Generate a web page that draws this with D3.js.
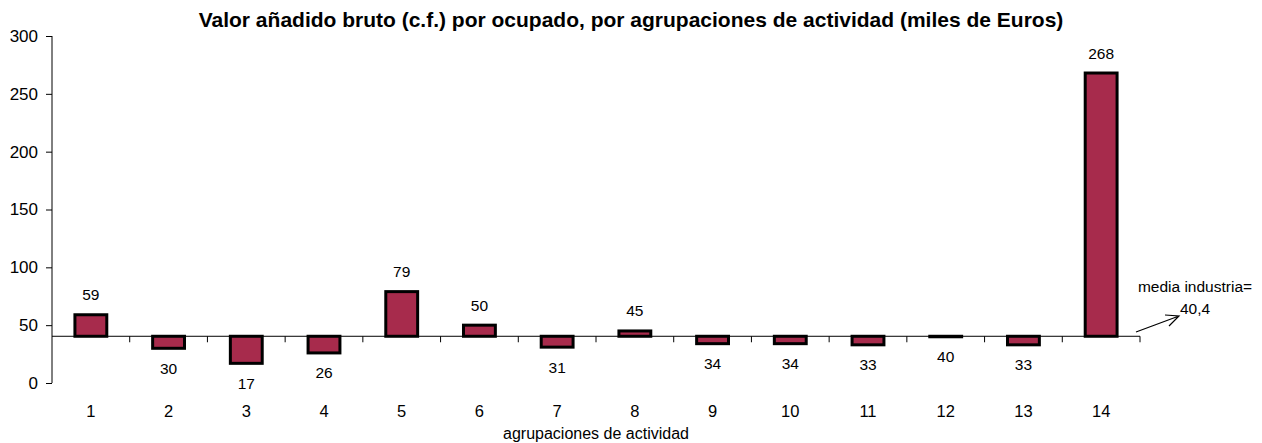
<!DOCTYPE html>
<html>
<head>
<meta charset="utf-8">
<script src="https://cdn.jsdelivr.net/npm/d3@7"></script>
<style>
body { margin: 0; background: #fff; }
svg { font-family: "Liberation Sans", Arial, sans-serif; }
</style>
</head>
<body>
<div class="chart"></div>
<script>
// data
var categories = ["1","2","3","4","5","6","7","8","9","10","11","12","13","14"];
var values = [59, 30, 17, 26, 79, 50, 31, 45, 34, 34, 33, 40, 33, 268];
var baseline = 40.4;
var yTicks = [0, 50, 100, 150, 200, 250, 300];

var width = 1262, height = 443;
var margin = {top: 36, left: 52, right: 122, bottom: 60};

var svg = d3.select(".chart").append("svg")
    .attr("width", width)
    .attr("height", height);

var x = d3.scaleBand()
    .domain(categories)
    .range([margin.left, width - margin.right])
    .paddingInner(0.59)
    .paddingOuter(0.295);

var xEdge = d3.scaleLinear()
    .domain([0, categories.length])
    .range([margin.left, width - margin.right]);

var y = d3.scaleLinear()
    .domain([0, 300])
    .range([height - margin.bottom, margin.top]);

// title
svg.append("text")
    .attr("x", 631)
    .attr("y", 27)
    .attr("text-anchor", "middle")
    .style("font-size", "21px")
    .style("font-weight", "bold")
    .text("Valor añadido bruto (c.f.) por ocupado, por agrupaciones de actividad (miles de Euros)");

// y axis
var yAxis = svg.append("g")
    .attr("transform", "translate(" + margin.left + ",0)")
    .call(d3.axisLeft(y).tickValues(yTicks).tickSize(6).tickPadding(8));
yAxis.select(".domain").attr("d", "M0," + y(300) + "V" + y(0)).attr("stroke", "#000");
yAxis.selectAll("line").attr("stroke", "#000");
yAxis.selectAll("text").style("font-size", "17px").attr("fill", "#000");

// bars from the baseline
svg.append("g").selectAll("rect")
    .data(values)
    .enter().append("rect")
    .attr("x", function(d, i) { return x(categories[i]); })
    .attr("width", x.bandwidth())
    .attr("y", function(d) { return y(Math.max(d, baseline)); })
    .attr("height", function(d) { return Math.max(Math.abs(y(d) - y(baseline)), 0.5); })
    .attr("fill", "#A72B4C")
    .attr("stroke", "#000")
    .attr("stroke-width", 3);

// horizontal axis at the mean
var yb = y(baseline);
svg.append("line")
    .attr("x1", margin.left).attr("x2", width - margin.right)
    .attr("y1", yb).attr("y2", yb)
    .attr("stroke", "#000");

svg.append("g").selectAll("line")
    .data(d3.range(1, categories.length + 1))
    .enter().append("line")
    .attr("x1", function(d) { return xEdge(d); })
    .attr("x2", function(d) { return xEdge(d); })
    .attr("y1", yb).attr("y2", yb + 6)
    .attr("stroke", "#000");

// value labels
svg.append("g").selectAll("text")
    .data(values)
    .enter().append("text")
    .attr("x", function(d, i) { return x(categories[i]) + x.bandwidth() / 2; })
    .attr("y", function(d) {
        return d >= baseline ? y(d) - 20 + 5.5 : y(d) + 20 + 5.5;
    })
    .attr("text-anchor", "middle")
    .style("font-size", "15.5px")
    .text(function(d) { return d; });

// category labels
svg.append("g").selectAll("text")
    .data(categories)
    .enter().append("text")
    .attr("x", function(d) { return x(d) + x.bandwidth() / 2; })
    .attr("y", 417)
    .attr("text-anchor", "middle")
    .style("font-size", "16.5px")
    .text(function(d) { return d; });

svg.append("text")
    .attr("x", 596)
    .attr("y", 439)
    .attr("text-anchor", "middle")
    .style("font-size", "16px")
    .text("agrupaciones de actividad");

// mean annotation
svg.append("text")
    .attr("x", 1195).attr("y", 292)
    .attr("text-anchor", "middle")
    .style("font-size", "15.5px")
    .text("media industria=");
svg.append("text")
    .attr("x", 1195).attr("y", 314)
    .attr("text-anchor", "middle")
    .style("font-size", "15.5px")
    .text("40,4");

svg.append("path")
    .attr("d", "M1136,332 L1179,316 M1165,315 L1179,316 L1169,326")
    .attr("fill", "none")
    .attr("stroke", "#000")
    .attr("stroke-width", 1.2);
</script>
</body>
</html>
